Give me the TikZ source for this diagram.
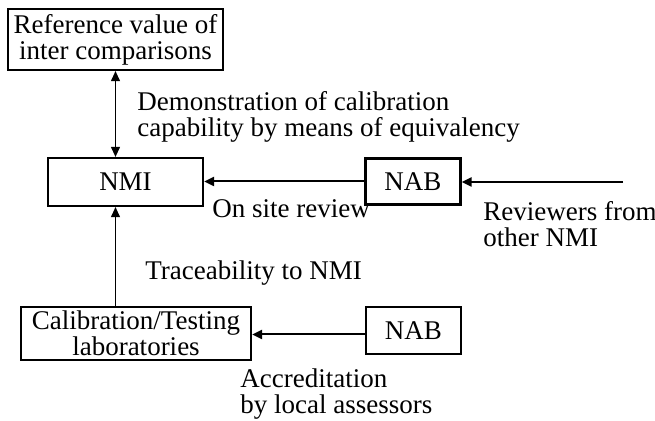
\documentclass[tikz,border=0pt]{standalone}
\usepackage{fontspec}
\setmainfont{Liberation Serif}
\usetikzlibrary{arrows.meta}
\tikzset{
  box/.style={draw, line width=1.1pt, inner sep=0pt, align=center, font=\labelfont},
  lbl/.style={inner sep=0pt, align=left, anchor=north west, font=\labelfont},
  thinarrow/.style={line width=0.5pt, -{Triangle[length=5pt,width=4.5pt]}},
  thinboth/.style={line width=0.5pt, {Triangle[length=5pt,width=4.5pt]}-{Triangle[length=5pt,width=4.5pt]}},
  thickarrow/.style={line width=1pt, -{Triangle[length=5pt,width=4.5pt]}}
}
\newcommand{\labelfont}{\fontsize{13.5}{12.9}\selectfont}

\begin{document}
\begin{tikzpicture}[x=0.5pt,y=-0.5pt]
  \useasboundingbox (0,0) rectangle (655,421);

  % boxes
  \node[box, minimum width=107.5pt, minimum height=30.5pt] (ref) at (115.5,39.5)
    {Reference value of\\inter comparisons};
  \node[box, minimum width=77.5pt, minimum height=24pt] (nmi) at (125.5,182) {NMI};
  \node[box, minimum width=47.5pt, minimum height=23pt] (nabtop) at (413,181.5) {NAB};
  \node[box, minimum width=115pt, minimum height=26.5pt] (lab) at (136,333.5)
    {Calibration/Testing\\laboratories};
  \node[box, minimum width=47.5pt, minimum height=23.5pt] (nabbot) at (413.5,330.5) {NAB};
  \coordinate (reviewers) at (623,182);

  % connectors
  \draw[thinboth] (ref.south) -- (ref.south |- nmi.north);
  \draw[thinarrow] (lab.north -| ref.south) -- (nmi.south -| ref.south);
  \draw[thickarrow] (nabtop.west) -- (nabtop.west -| nmi.east);
  \draw[thickarrow] (reviewers) -- (reviewers -| nabtop.east);
  \draw[thickarrow] ([yshift=-2pt]nabbot.west) -- ([yshift=-2pt]nabbot.west -| lab.east);

  % labels
  \node[lbl] (demo) at (137,91.5)
    {Demonstration of calibration\\capability by means of equivalency};
  \node[lbl, anchor=base west] (onsite) at (212,218) {On site review};
  \node[lbl] (revtext) at (483,201.5) {Reviewers from\\other NMI};
  \node[lbl, anchor=base west] (trace) at (145,280) {Traceability to NMI};
  \node[lbl] (accred) at (240,368.5) {Accreditation\\by local assessors};
\end{tikzpicture}
\end{document}
